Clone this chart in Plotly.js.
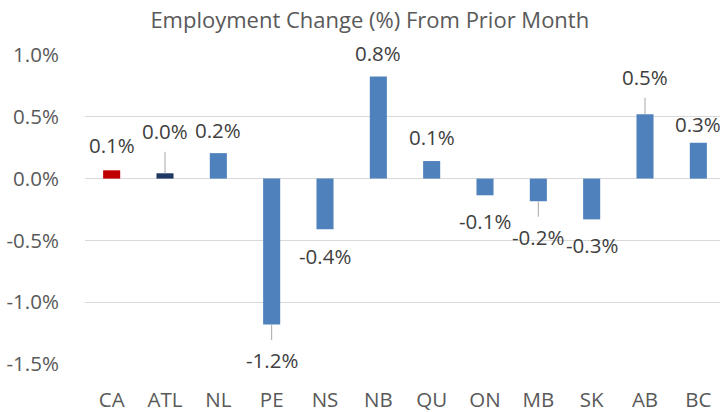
<!DOCTYPE html>
<html>
<head>
<meta charset="utf-8">
<script src="https://cdn.plot.ly/plotly-3.0.1.min.js"></script>
<style>
  html, body { margin: 0; padding: 0; background: #fff; overflow: hidden; width: 720px; height: 412px; }
  #chart { width: 725px; height: 412px; }
</style>
</head>
<body>
<div id="chart"></div>
<script>
// Data
const regions = ["CA", "ATL", "NL", "PE", "NS", "NB", "QU", "ON", "MB", "SK", "AB", "BC"];
const changePct = [0.067, 0.043, 0.206, -1.18, -0.41, 0.827, 0.142, -0.135, -0.183, -0.33, 0.52, 0.29];
const yTickVals = [-1.5, -1.0, -0.5, 0.0, 0.5, 1.0];

// Styles
const barColors = ["#C00000", "#1F3864", "#4F81BD", "#4F81BD", "#4F81BD", "#4F81BD",
                   "#4F81BD", "#4F81BD", "#4F81BD", "#4F81BD", "#4F81BD", "#4F81BD"];
// label offsets in pixels from bar end (negative = up), and whether a leader line is drawn
const labelOffsetPx = [-25, -42, -23, 36, 27, -23, -24, 26, 36, 26, -37, -19];
const hasLeader = [false, true, false, true, false, false, false, false, true, false, true, false];

const FONT = "'Open Sans', 'Noto Sans', sans-serif";
const TXT = "#595959";

const trace = {
  type: "bar",
  x: regions,
  y: changePct,
  marker: { color: barColors, line: { width: 0 } },
  hoverinfo: "skip"
};

const annotations = regions.map((r, i) => ({
  x: r,
  y: changePct[i],
  xref: "x",
  yref: "y",
  text: changePct[i].toFixed(1) + "%",
  showarrow: true,
  ax: 0,
  ay: labelOffsetPx[i],
  arrowhead: 0,
  arrowwidth: 1,
  arrowcolor: hasLeader[i] ? "#A6A6A6" : "rgba(0,0,0,0)",
  standoff: 0,
  startstandoff: 5,
  font: { family: FONT, size: 20.5, color: "#404040" }
}));

const layout = {
  width: 725,
  height: 412,
  margin: { l: 85, r: 0, t: 55, b: 48, pad: 0 },
  paper_bgcolor: "#fff",
  plot_bgcolor: "#fff",
  bargap: 0.68,
  showlegend: false,
  title: {
    text: "Employment Change (%) From Prior Month",
    font: { family: FONT, size: 22, color: TXT },
    xref: "paper",
    x: 0.445,
    xanchor: "center",
    yref: "container",
    y: 0.951,
    yanchor: "middle"
  },
  xaxis: {
    type: "category",
    showgrid: false,
    zeroline: false,
    showline: false,
    ticks: "outside",
    ticklen: 17,
    tickcolor: "rgba(0,0,0,0)",
    tickfont: { family: FONT, size: 20.5, color: TXT },
    fixedrange: true
  },
  yaxis: {
    range: [-1.5, 1.0],
    tickvals: yTickVals,
    ticktext: yTickVals.map(v => v.toFixed(1) + "%"),
    showgrid: true,
    gridcolor: "#D9D9D9",
    gridwidth: 1,
    zeroline: true,
    zerolinecolor: "#D9D9D9",
    zerolinewidth: 1,
    showline: false,
    ticks: "outside",
    ticklen: 21,
    tickcolor: "rgba(0,0,0,0)",
    tickfont: { family: FONT, size: 20.5, color: TXT },
    fixedrange: true
  },
  annotations: annotations
};

Plotly.newPlot("chart", [trace], layout, { displayModeBar: false, staticPlot: true });
</script>
</body>
</html>
